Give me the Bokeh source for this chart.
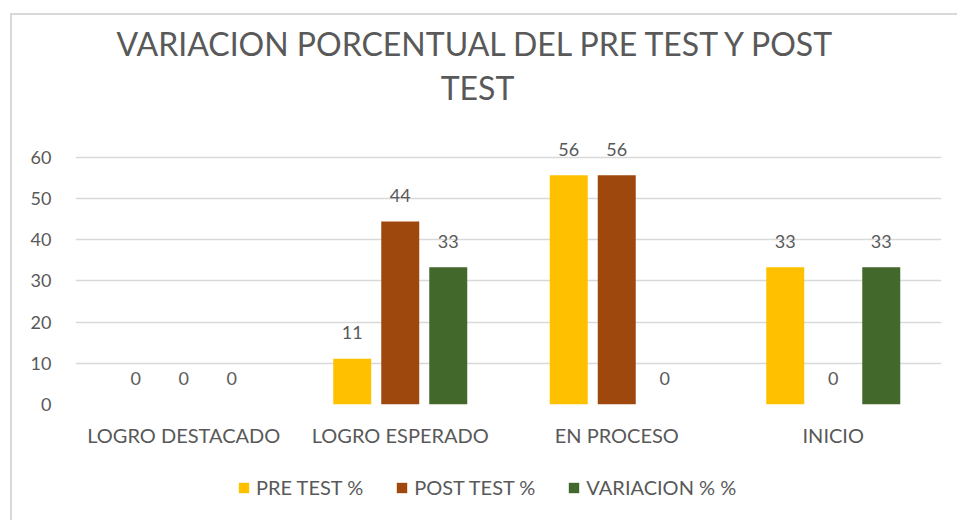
from bokeh.plotting import figure
from bokeh.layouts import column
from bokeh.models import (ColumnDataSource, FactorRange, FixedTicker, Legend,
                          LegendItem, LabelSet, Label, Range1d)
from bokeh.core.properties import value
from bokeh.transform import dodge
from bokeh.embed import file_html
from bokeh.resources import INLINE

# ---- data ----
categories = ["LOGRO DESTACADO", "LOGRO ESPERADO", "EN PROCESO", "INICIO"]
pre_test = [0, 11.1, 55.6, 33.3]
post_test = [0, 44.4, 55.6, 0]
variacion = [0, 33.3, 0, 33.3]
series_names = ["PRE TEST %", "POST TEST %", "VARIACION % %"]
y_ticks = [0, 10, 20, 30, 40, 50, 60]
title_line1 = "VARIACION PORCENTUAL DEL PRE TEST Y POST"
title_line2 = "TEST"

# ---- styles ----
colors = ["#FFC000", "#9E480E", "#43682B"]
offsets = [-0.2217, 0.0, 0.2217]
bar_width = 0.1755
text_color = "#595959"
font = "Lato"
border = "#D9D9D9"
left_line = f"linear-gradient({border},{border}) 10px 0px / 2px 100% no-repeat"


def blank_panel(h, x_range=None, y_range=None):
    f = figure(width=957, height=h, output_backend="svg", toolbar_location=None,
               x_axis_type=None, y_axis_type=None, min_border=0,
               x_range=x_range if x_range is not None else Range1d(0, 1),
               y_range=y_range if y_range is not None else Range1d(0, 1))
    f.grid.visible = False
    f.outline_line_color = None
    f.background_fill_alpha = 0
    f.border_fill_alpha = 0
    return f


sources = [ColumnDataSource(dict(x=categories, top=vals,
                                 label=[f"{round(v)}" for v in vals]))
           for vals in (pre_test, post_test, variacion)]

# ---- title panel (its frame is aligned with the chart's frame, left = 75px) ----
pt = blank_panel(132)
pt.styles = {"background": f"linear-gradient({border},{border}) 10px 13px / 2px 100% no-repeat, "
                           f"linear-gradient({border},{border}) 10px 13px / 100% 2px no-repeat, white"}
for txt, ypos in [(title_line1, 89), (title_line2, 45)]:
    pt.add_layout(Label(x=402, y=ypos, x_units="screen", y_units="screen", text=txt,
                        text_align="center", text_baseline="middle", text_font=font,
                        text_font_size="32px", text_color=text_color))

# ---- main chart ----
p = figure(x_range=FactorRange(*categories, range_padding=0),
           y_range=Range1d(0, 66),
           width=957, height=328,
           output_backend="svg", toolbar_location=None,
           min_border_left=75, min_border_right=16,
           min_border_top=0, min_border_bottom=56)
p.outline_line_color = None
p.border_fill_alpha = 0
p.styles = {"background": f"{left_line}, white"}

for src, col, off in zip(sources, colors, offsets):
    p.vbar(x=dodge("x", off, range=p.x_range), top="top", width=bar_width,
           source=src, fill_color=col, line_color=None)
    p.add_layout(LabelSet(x=dodge("x", off, range=p.x_range), y="top", text="label",
                          source=src, text_align="center", text_baseline="middle",
                          y_offset=26, text_font=value(font), text_font_size=value("18px"),
                          text_color=text_color))

p.yaxis.ticker = FixedTicker(ticks=y_ticks)
for ax in (p.xaxis[0], p.yaxis[0]):
    ax.axis_line_color = None
    ax.major_tick_line_color = None
    ax.minor_tick_line_color = None
    ax.major_label_text_font = font
    ax.major_label_text_color = text_color
p.yaxis.major_label_text_font_size = "18px"
p.yaxis.major_label_standoff = 18
p.xaxis.major_label_text_font_size = "20px"
p.xaxis.major_label_standoff = 12
p.xgrid.grid_line_color = None
p.ygrid.grid_line_color = border
p.ygrid.grid_line_width = 1.5

# ---- legend panel (series renderers kept out of its view; only the legend shows) ----
pl = blank_panel(60, x_range=FactorRange(*categories), y_range=Range1d(1000, 1001))
pl.styles = {"background": f"{left_line}, white"}
items = []
for name, src, col in zip(series_names, sources, colors):
    r = pl.vbar(x="x", top="top", width=0.5, source=src, fill_color=col, line_color=None)
    items.append(LegendItem(label=name, renderers=[r]))
pl.add_layout(Legend(items=items, orientation="horizontal", location=(162, 21),
                     label_text_font=font, label_text_font_size="20px",
                     label_text_color=text_color, glyph_width=13, glyph_height=13,
                     label_standoff=6, spacing=32, border_line_color=None,
                     background_fill_alpha=0, margin=0, padding=3))

layout = column(pt, p, pl, spacing=0)
open("out.html", "w").write(file_html(layout, INLINE))
